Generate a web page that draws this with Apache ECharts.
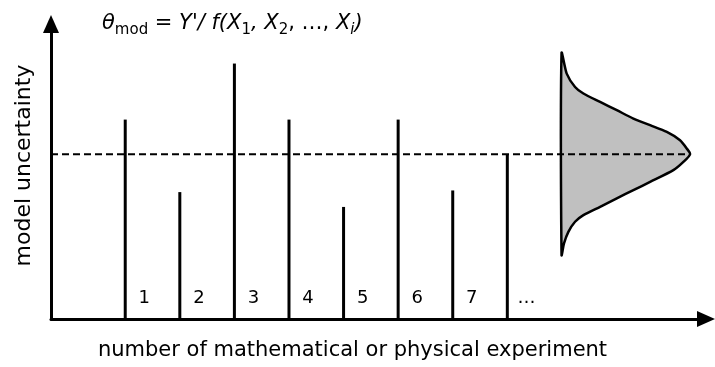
<!DOCTYPE html>
<html>
<head>
<meta charset="utf-8">
<script src="https://cdn.jsdelivr.net/npm/echarts@6/dist/echarts.min.js"></script>
<style>
  html, body { margin: 0; padding: 0; background: #fff; }
  #chart { width: 715px; height: 367px; }
</style>
</head>
<body>
<div id="chart"></div>
<script>
// Repeated experiments: model uncertainty obtained from each run
const experiments = [1, 2, 3, 4, 5, 6, 7, 8];
const uncertainty = [1.21, 0.77, 1.55, 1.21, 0.68, 1.21, 0.78, 1.0];
const runLabels = ['1', '2', '3', '4', '5', '6', '7', '…'];

// Mean model uncertainty (dashed reference line)
const meanUncertainty = 1.0;

// Resulting distribution of the model uncertainty (relative density, peak = 1)
const pdfUncertainty = [1.614, 1.489, 1.408, 1.368, 1.317, 1.267, 1.216, 1.176, 1.135, 1.085, 1.035, 1.0,
                        0.953, 0.903, 0.832, 0.782, 0.732, 0.681, 0.630, 0.590, 0.529, 0.459, 0.388];
const pdfDensity = [0, 0.040, 0.105, 0.170, 0.300, 0.430, 0.559, 0.689, 0.819, 0.922, 0.974, 1,
                    0.948, 0.870, 0.689, 0.559, 0.430, 0.300, 0.170, 0.105, 0.053, 0.019, 0];

const FONT = 'DejaVu Sans';
const chart = echarts.init(document.getElementById('chart'));

const axisLineStyle = { color: '#000', width: 3 };

chart.setOption({
  animation: false,
  backgroundColor: '#fff',
  title: {
    left: 97,
    top: 8,
    text: '{i|θ}{s|mod}{n| = }{i|Y\'/ f(X}{s|1}{i|, X}{s|2}{n|, …, }{i|X}{si|i}{i|)}',
    textStyle: {
      fontWeight: 'normal',
      rich: {
        i: { fontFamily: FONT, fontStyle: 'italic', fontWeight: 'normal', fontSize: 21, color: '#000' },
        n: { fontFamily: FONT, fontWeight: 'normal', fontSize: 21, color: '#000' },
        s: { fontFamily: FONT, fontWeight: 'normal', fontSize: 15, color: '#000', verticalAlign: 'bottom', padding: [0, 0, -4, 0] },
        si: { fontFamily: FONT, fontStyle: 'italic', fontWeight: 'normal', fontSize: 15, color: '#000', verticalAlign: 'bottom', padding: [0, 0, -4, 0] }
      }
    }
  },
  grid: { left: 51, right: 9, top: 24, bottom: 48 },
  xAxis: [
    {
      type: 'value',
      min: -0.36,
      max: 11.64,
      name: 'number of mathematical or physical experiment',
      nameLocation: 'middle',
      nameGap: 21,
      nameTextStyle: { fontFamily: FONT, fontSize: 21, color: '#000', padding: [0, 52, 0, 0] },
      axisLine: { show: true, onZero: false, lineStyle: axisLineStyle, symbol: ['none', 'triangle'], symbolSize: [16, 18] },
      axisTick: { show: false },
      axisLabel: { show: false },
      splitLine: { show: false }
    },
    {
      // density scale for the distribution on the right
      type: 'value',
      min: -3.973,
      max: 1.124,
      show: false,
      splitLine: { show: false }
    }
  ],
  yAxis: {
    type: 'value',
    min: 0,
    max: 1.79,
    name: 'model uncertainty',
    nameLocation: 'middle',
    nameRotate: 90,
    nameGap: 16,
    nameTextStyle: { fontFamily: FONT, fontSize: 22, color: '#000', padding: [0, 0, 0, 12] },
    axisLine: { show: true, onZero: false, lineStyle: axisLineStyle, symbol: ['none', 'triangle'], symbolSize: [16, 18] },
    axisTick: { show: false },
    axisLabel: { show: false },
    splitLine: { show: false }
  },
  series: [
    {
      // distribution of the model uncertainty
      type: 'custom',
      xAxisIndex: 1,
      data: [0],
      z: 2,
      silent: true,
      renderItem: function (params, api) {
        const pts = pdfDensity.map(function (d, i) { return api.coord([d, pdfUncertainty[i]]); });
        return {
          type: 'polygon',
          shape: { points: pts, smooth: 0.25 },
          style: { fill: '#c0c0c0', stroke: '#000', lineWidth: 2.5, lineJoin: 'round' }
        };
      }
    },
    {
      // mean value across all experiments
      type: 'line',
      xAxisIndex: 1,
      data: [[-3.973, meanUncertainty], [1, meanUncertainty]],
      symbol: 'none',
      z: 3,
      silent: true,
      lineStyle: { color: '#000', width: 2, type: [7, 4] }
    },
    {
      // one vertical line per experiment with its number
      type: 'custom',
      xAxisIndex: 0,
      z: 4,
      silent: true,
      data: experiments.map(function (e, i) { return [e, uncertainty[i]]; }),
      renderItem: function (params, api) {
        const x = api.value(0);
        const base = api.coord([x, 0]);
        const top = api.coord([x, api.value(1)]);
        const lbl = api.coord([x + 0.35, 0]);
        return {
          type: 'group',
          children: [
            {
              type: 'line',
              shape: { x1: base[0], y1: base[1], x2: top[0], y2: top[1] },
              style: { stroke: '#000', lineWidth: 3 }
            },
            {
              type: 'text',
              x: lbl[0],
              y: lbl[1] - 21,
              style: {
                text: runLabels[params.dataIndex],
                fontFamily: FONT,
                fontSize: 18,
                fill: '#000',
                align: 'center',
                verticalAlign: 'middle'
              }
            }
          ]
        };
      }
    }
  ]
});
</script>
</body>
</html>
